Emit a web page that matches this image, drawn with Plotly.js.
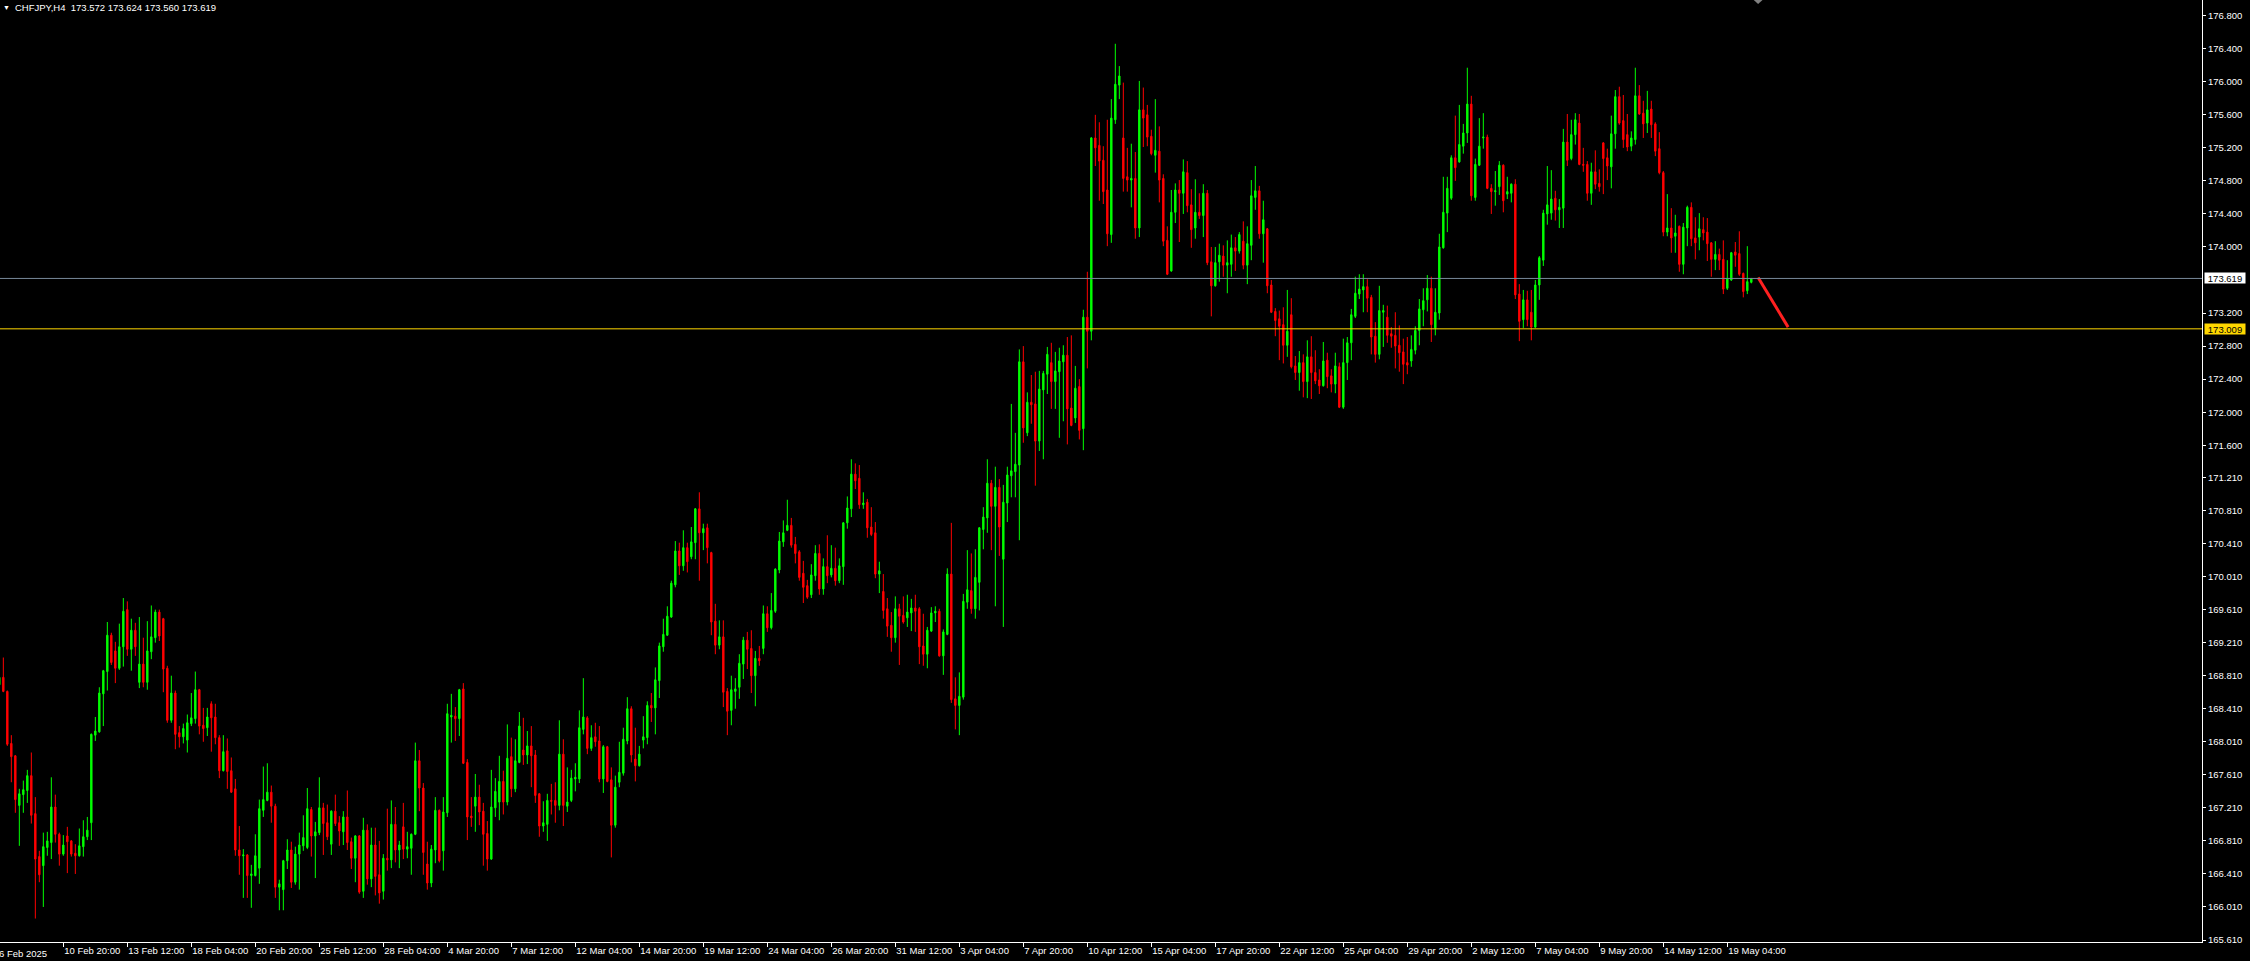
<!DOCTYPE html>
<html><head><meta charset="utf-8">
<script src="https://cdn.plot.ly/plotly-3.0.1.min.js"></script>
<style>html,body{margin:0;padding:0;background:#000;overflow:hidden}#chart{width:2250px;height:961px}</style>
</head><body><div id="chart"></div>
<script>
const symbol = "CHFJPY,H4";
const lastBarOHLC = ["173.572", "173.624", "173.560", "173.619"];

const openV = [
168.70,168.79,168.62,167.99,167.84,167.24,167.37,167.42,167.60,167.14,
166.62,166.51,166.73,166.79,167.22,166.89,166.65,166.87,166.81,166.66,
166.63,166.74,166.86,167.03,168.09,168.13,168.59,168.86,169.30,169.11,
168.90,169.16,169.61,169.13,169.36,168.73,168.95,168.73,169.10,169.27,
169.58,169.50,168.90,168.27,168.60,168.12,168.07,168.03,168.23,168.29,
168.64,168.21,168.18,168.47,168.31,168.06,167.66,167.90,167.66,167.44,
166.70,166.63,166.64,166.39,166.39,166.48,167.18,167.30,167.40,167.23,
166.25,166.22,166.57,166.70,166.31,166.65,166.75,166.73,167.19,166.87,
166.91,167.21,167.03,166.77,167.17,167.03,166.92,167.10,166.80,166.60,
166.87,166.20,166.94,166.35,166.76,166.40,166.20,166.60,166.58,167.01,
166.70,166.98,166.71,166.72,166.89,167.78,167.45,166.53,166.30,166.70,
167.18,166.69,167.15,168.31,168.32,168.29,168.65,167.76,167.11,167.23,
167.34,167.17,166.90,166.59,167.21,167.28,167.53,167.28,167.83,167.44,
167.76,167.91,167.85,167.96,167.85,167.38,166.99,167.01,167.30,167.30,
167.24,167.86,167.23,167.30,167.56,167.56,168.16,168.30,167.93,168.07,
168.02,167.56,167.95,167.55,167.00,167.52,167.63,168.02,168.41,167.80,
167.72,168.03,168.06,168.45,168.42,168.75,169.16,169.30,169.52,169.91,
170.32,170.14,170.36,170.25,170.42,170.83,170.54,170.60,170.30,169.47,
169.18,169.28,168.62,168.39,168.62,168.67,168.95,169.24,169.14,168.81,
169.02,169.14,169.56,169.39,169.59,170.09,170.43,170.57,170.63,170.40,
170.31,170.05,169.90,169.79,170.02,170.29,169.86,170.13,170.03,170.11,
169.96,170.13,170.66,170.83,171.25,171.20,170.88,170.91,170.61,170.54,
170.04,169.83,169.62,169.42,169.27,169.62,169.54,169.51,169.57,169.63,
169.62,169.17,169.07,169.35,169.57,169.59,169.05,169.31,170.04,168.53,
168.45,168.55,169.70,169.84,169.62,169.94,170.58,170.72,171.14,170.86,
171.09,170.22,170.90,171.23,171.28,171.36,172.61,171.75,172.12,172.10,
171.65,172.27,172.46,172.60,172.37,172.49,172.61,172.69,172.05,171.93,
172.31,171.80,173.15,172.98,175.32,175.23,175.05,174.69,174.15,175.54,
175.96,175.32,174.85,174.81,174.83,174.23,175.66,175.60,175.34,175.11,
175.16,174.83,174.08,173.71,174.42,174.69,174.65,174.90,174.51,174.23,
174.42,174.38,174.65,173.82,173.53,173.82,173.89,173.78,173.79,173.99,
173.95,174.07,173.78,174.02,174.60,174.68,174.16,174.22,173.54,173.22,
173.13,173.06,172.81,173.18,172.56,172.48,172.60,172.37,172.67,172.48,
172.39,172.32,172.63,172.44,172.34,172.55,172.06,172.60,172.84,173.16,
173.43,173.48,173.52,173.39,172.92,172.70,173.21,173.15,172.95,172.93,
172.81,172.73,172.60,172.62,172.75,172.99,173.24,173.36,173.50,173.02,
173.20,173.99,174.41,174.59,175.08,175.03,175.22,175.38,175.73,174.60,
174.99,175.32,175.33,174.71,174.67,174.73,174.99,174.64,174.65,174.76,
173.43,173.12,173.36,173.21,173.03,173.54,173.84,174.40,174.41,174.59,
174.45,174.47,175.27,175.07,175.36,175.50,175.00,175.00,174.65,174.91,
174.77,175.26,175.08,174.97,175.37,175.82,175.53,175.36,175.22,175.30,
175.83,175.62,175.50,175.67,175.49,175.19,174.90,174.18,174.23,174.13,
174.25,173.79,174.23,174.48,174.11,174.12,174.21,174.18,174.05,173.85,
173.91,173.85,173.50,173.60,173.94,173.92,173.68,173.47,173.572];

const highV = [
168.82,169.03,168.63,168.09,167.85,167.44,167.54,167.67,167.88,167.34,
166.69,166.91,166.92,167.58,167.37,166.91,166.88,166.98,166.82,166.77,
166.96,167.06,167.10,168.11,168.31,168.67,168.88,169.46,169.33,169.22,
169.44,169.75,169.71,169.50,169.45,169.52,169.27,169.47,169.66,169.61,
169.61,169.51,168.93,168.81,168.63,168.20,168.23,168.34,168.60,168.86,
168.65,168.42,168.42,168.50,168.47,168.09,168.09,168.05,167.82,167.56,
166.99,166.71,166.65,166.52,166.89,167.31,167.71,167.75,167.48,167.26,
166.34,166.58,166.83,166.80,166.74,166.91,167.12,167.45,167.22,167.04,
167.58,167.27,167.25,167.18,167.37,167.11,167.17,167.42,166.85,166.88,
166.88,167.09,167.01,166.97,166.97,166.81,166.65,167.20,167.30,167.22,
166.81,167.27,166.92,166.90,168.00,167.91,167.51,166.80,166.76,167.34,
167.19,167.34,168.47,168.59,168.43,168.65,168.72,167.80,167.34,167.62,
167.49,167.27,167.05,167.67,167.57,167.84,167.66,168.22,168.06,168.04,
168.37,168.30,168.14,168.20,167.91,167.39,167.29,167.38,167.50,167.52,
168.27,168.04,167.70,167.67,167.75,168.39,168.78,168.32,168.21,168.24,
168.20,167.97,167.96,167.70,167.60,168.01,168.18,168.55,168.44,168.18,
167.96,168.32,168.50,168.60,168.91,169.21,169.50,169.65,169.96,170.44,
170.42,170.57,170.42,170.61,170.84,171.03,170.65,170.65,170.31,169.68,
169.48,169.48,168.66,168.81,168.78,169.07,169.28,169.34,169.36,169.11,
169.17,169.66,169.65,169.81,170.11,170.55,170.69,170.94,170.72,170.49,
170.33,170.20,169.97,170.16,170.39,170.40,170.23,170.51,170.39,170.36,
170.23,170.67,170.98,171.43,171.38,171.36,171.03,170.95,170.85,170.67,
170.19,170.04,169.75,169.58,169.77,169.68,169.77,169.79,169.74,169.79,
169.64,169.56,169.40,169.64,169.65,169.62,169.37,170.11,170.66,168.79,
168.85,169.80,170.33,170.29,170.34,170.61,170.85,171.43,171.18,171.34,
171.19,171.12,171.34,172.10,171.75,172.76,172.80,172.24,172.45,172.49,
172.50,172.50,172.79,172.84,172.73,172.78,172.81,172.91,172.93,172.56,
172.40,173.24,173.70,175.33,175.60,175.51,175.22,175.54,175.79,176.46,
176.19,175.99,175.20,175.25,175.15,176.01,175.93,175.72,175.42,175.79,
175.46,174.88,174.25,174.69,174.77,174.81,175.06,175.04,174.70,174.82,
174.65,174.76,174.69,174.00,174.00,174.04,174.02,174.08,174.15,174.12,
174.18,174.31,174.25,174.81,174.98,174.74,174.56,174.23,173.60,173.26,
173.23,173.27,173.48,173.38,172.68,172.74,172.70,172.87,172.92,172.75,
172.52,172.85,172.72,172.52,172.72,172.60,172.89,172.91,173.25,173.64,
173.67,173.67,173.61,173.42,173.09,173.53,173.30,173.29,173.03,173.21,
173.05,172.89,172.91,172.93,173.04,173.37,173.50,173.66,173.64,173.50,
174.16,174.85,174.85,175.11,175.59,175.72,175.49,176.17,175.83,175.07,
175.56,175.62,175.36,174.76,174.92,175.04,175.00,174.85,174.77,174.82,
173.55,173.48,173.47,173.48,173.60,173.89,174.45,174.98,174.93,174.68,
174.58,175.43,175.61,175.54,175.62,175.61,175.20,175.04,175.02,175.17,
174.94,175.27,175.19,175.59,175.90,175.94,175.84,175.61,175.40,176.17,
175.96,175.77,175.89,175.77,175.51,175.39,174.92,174.64,174.47,174.39,
174.26,174.29,174.50,174.54,174.36,174.41,174.36,174.35,174.06,174.07,
173.98,174.08,173.84,173.94,174.06,174.19,173.69,174.01,173.624];

const lowV = [
168.69,168.61,167.96,167.52,167.15,166.75,167.15,167.27,167.02,165.87,
166.31,166.01,166.63,166.59,166.79,166.51,166.63,166.42,166.62,166.41,
166.62,166.62,166.82,166.82,168.02,168.12,168.20,168.63,168.94,168.72,
168.88,168.92,169.05,168.87,169.05,168.66,168.67,168.64,169.01,169.21,
169.23,168.61,168.24,168.24,167.92,167.94,167.99,167.88,168.20,168.23,
168.10,168.01,168.08,167.89,167.98,167.57,167.65,167.44,167.39,166.63,
166.40,166.12,166.12,166.00,166.38,166.29,167.10,167.29,167.03,166.12,
165.97,165.97,166.47,166.24,166.28,166.22,166.69,166.71,166.62,166.36,
166.88,166.64,166.82,166.64,166.99,166.75,166.76,166.70,166.47,166.31,
166.17,166.12,166.28,166.25,166.15,166.05,166.10,166.45,166.48,166.55,
166.48,166.59,166.60,166.40,166.88,167.17,166.40,166.22,166.25,166.54,
166.55,166.45,167.10,168.00,168.02,168.08,167.74,166.82,166.98,166.92,
167.00,166.51,166.45,166.58,167.10,167.06,167.13,167.24,167.34,167.40,
167.75,167.73,167.74,167.46,167.27,166.86,166.92,166.81,167.13,167.03,
167.18,166.99,167.16,167.28,167.41,167.51,168.10,167.86,167.90,167.95,
167.52,167.39,167.52,166.61,166.97,167.46,167.60,167.98,167.76,167.53,
167.71,167.93,167.98,168.25,168.10,168.54,169.10,169.29,169.51,169.88,
170.03,170.08,170.06,170.22,170.22,169.96,170.33,170.17,169.30,169.07,
169.13,168.43,168.09,168.21,168.41,168.53,168.77,168.89,168.60,168.44,
168.93,169.07,169.34,169.37,169.57,170.05,170.37,170.56,170.36,170.17,
169.96,169.69,169.74,169.75,169.96,169.79,169.79,169.93,170.00,169.90,
169.93,169.91,170.59,170.73,171.07,170.83,170.83,170.48,170.50,169.99,
169.81,169.50,169.28,169.10,169.21,168.94,169.44,169.40,169.35,169.34,
168.95,168.93,168.90,169.34,169.46,169.04,168.82,169.30,168.48,168.16,
168.09,168.52,169.62,169.56,169.50,169.60,170.34,170.54,170.33,169.65,
170.26,169.40,170.67,170.97,170.97,170.45,171.63,171.71,171.86,171.11,
171.53,171.43,172.22,172.04,172.04,171.69,171.89,171.61,171.83,171.87,
171.67,171.54,172.53,172.87,174.98,174.56,174.52,174.01,174.05,175.49,
175.79,174.67,174.67,174.48,174.10,174.12,175.21,175.22,175.11,174.90,
174.54,174.01,173.66,173.70,174.29,174.06,174.40,174.42,173.99,174.10,
174.34,174.12,173.78,173.16,173.52,173.58,173.64,173.44,173.64,173.71,
173.92,173.73,173.55,173.84,174.45,174.10,173.81,173.44,173.20,172.92,
172.63,172.59,172.67,172.53,172.39,172.26,172.18,172.17,172.16,172.34,
172.22,172.31,172.29,172.24,172.23,172.05,172.04,172.39,172.63,173.14,
173.37,173.21,173.21,172.70,172.60,172.64,172.79,172.84,172.78,172.53,
172.49,172.34,172.46,172.55,172.70,172.81,173.04,173.22,172.85,172.93,
173.12,173.98,174.18,174.57,174.80,175.02,175.13,175.26,174.56,174.56,
174.98,175.19,174.70,174.40,174.50,174.63,174.42,174.58,174.54,173.37,
172.86,173.02,173.04,172.87,173.02,173.36,173.77,174.27,174.33,174.32,
174.23,174.23,174.98,175.05,175.24,174.99,174.91,174.56,174.51,174.70,
174.67,174.64,174.81,174.71,175.19,175.48,175.20,175.16,175.16,175.24,
175.60,175.32,175.38,175.32,175.10,174.88,174.13,174.13,173.93,173.93,
173.70,173.67,174.01,174.01,173.85,173.96,174.08,173.83,173.64,173.72,
173.72,173.43,173.48,173.59,173.76,173.65,173.39,173.43,173.560];

const closeV = [
168.79,168.62,167.98,167.83,167.31,167.38,167.43,167.60,167.12,166.59,
166.40,166.74,166.81,167.22,166.89,166.65,166.76,166.80,166.65,166.63,
166.75,166.86,166.94,168.10,168.14,168.60,168.87,169.30,168.97,168.90,
169.16,169.59,169.13,169.36,169.16,168.95,168.73,169.11,169.28,169.58,
169.29,168.89,168.27,168.60,168.10,168.07,168.17,168.24,168.30,168.64,
168.20,168.17,168.31,168.30,168.06,167.66,167.89,167.65,167.40,166.70,
166.63,166.64,166.39,166.41,166.63,167.20,167.31,167.40,167.23,166.25,
166.29,166.57,166.70,166.31,166.65,166.76,166.85,167.20,166.87,166.92,
167.21,167.02,166.86,167.17,167.02,166.93,167.10,166.79,166.60,166.87,
166.19,166.94,166.35,166.76,166.38,166.18,166.60,166.58,167.01,166.70,
166.76,166.71,166.74,166.89,167.78,167.45,166.67,166.30,166.71,167.18,
166.57,167.16,168.35,168.33,168.29,168.64,167.75,167.10,167.09,167.34,
167.16,166.89,166.59,167.22,167.41,167.53,167.28,167.81,167.44,167.78,
168.20,167.85,167.96,167.84,167.36,166.99,167.03,167.30,167.29,167.24,
167.86,167.24,167.28,167.57,167.58,168.18,168.31,167.93,168.06,168.01,
167.56,167.95,167.53,167.00,167.46,167.64,168.04,168.41,167.85,167.72,
167.86,168.07,168.45,168.42,168.76,169.17,169.31,169.53,169.93,170.32,
170.14,170.36,170.19,170.43,170.83,170.54,170.59,170.36,169.46,169.18,
169.28,168.61,168.38,168.64,168.65,168.96,169.24,169.13,168.81,169.02,
168.99,169.56,169.39,169.60,170.10,170.44,170.54,170.63,170.39,170.29,
170.00,169.88,169.76,170.03,170.29,169.86,170.13,170.02,170.11,169.96,
170.14,170.66,170.84,171.25,171.17,170.88,170.90,170.60,170.52,170.04,
170.08,169.60,169.41,169.27,169.62,169.53,169.46,169.58,169.63,169.59,
169.16,169.07,169.36,169.57,169.59,169.05,169.34,170.04,168.52,168.45,
168.56,169.71,169.85,169.62,170.00,170.60,170.73,171.14,170.86,171.09,
170.61,170.91,171.24,171.29,171.37,172.61,171.81,172.12,172.09,171.65,
172.28,172.47,172.70,172.37,172.50,172.62,172.69,172.04,171.84,172.29,
171.78,173.15,172.98,175.32,175.20,175.04,174.67,174.16,175.56,175.97,
176.07,174.83,174.81,174.83,174.23,175.66,175.56,175.33,175.13,175.17,
174.81,174.07,173.67,174.42,174.69,174.65,174.91,174.50,174.21,174.42,
174.38,174.65,173.81,173.53,173.81,173.90,173.78,173.81,173.99,173.95,
174.15,173.78,174.04,174.62,174.68,174.16,174.33,173.53,173.21,173.11,
173.04,172.81,172.98,172.55,172.48,172.60,172.37,172.67,172.48,172.38,
172.32,172.62,172.43,172.34,172.56,172.06,172.60,172.84,173.18,173.44,
173.49,173.52,173.38,172.91,172.70,173.23,173.23,172.93,172.92,172.80,
172.72,172.58,172.57,172.76,172.99,173.25,173.35,173.50,173.06,173.21,
174.00,174.42,174.71,175.08,174.96,175.24,175.38,175.73,174.62,175.00,
175.22,175.33,174.71,174.67,174.68,174.99,174.56,174.67,174.76,173.42,
173.10,173.36,173.12,173.03,173.54,173.87,174.41,174.51,174.58,174.45,
174.48,175.27,175.05,175.36,175.54,175.00,174.99,174.65,174.91,174.76,
174.73,175.07,174.98,175.37,175.82,175.50,175.30,175.21,175.32,175.83,
175.61,175.49,175.66,175.48,175.16,174.90,174.18,174.23,174.11,174.17,
173.79,174.24,174.48,174.10,174.05,174.22,174.17,174.04,173.85,173.91,
173.84,173.49,173.62,173.93,173.90,173.67,173.46,173.58,173.619];

const timeLabels = ["6 Feb 2025","10 Feb 20:00","13 Feb 12:00","18 Feb 04:00","20 Feb 20:00","25 Feb 12:00",
"28 Feb 04:00","4 Mar 20:00","7 Mar 12:00","12 Mar 04:00","14 Mar 20:00","19 Mar 12:00","24 Mar 04:00",
"26 Mar 20:00","31 Mar 12:00","3 Apr 04:00","7 Apr 20:00","10 Apr 12:00","15 Apr 04:00","17 Apr 20:00",
"22 Apr 12:00","25 Apr 04:00","29 Apr 20:00","2 May 12:00","7 May 04:00","9 May 20:00","14 May 12:00","19 May 04:00"];
const barsPerLabel = 16;

const priceTicks = [176.8,176.4,176.0,175.6,175.2,174.8,174.4,174.0,173.2,172.8,172.4,172.0,171.6,
171.21,170.81,170.41,170.01,169.61,169.21,168.81,168.41,168.01,167.61,167.21,166.81,166.41,166.01,165.61];

const bidPrice = 173.619;
const levelPrice = 173.009;
const arrowBars = [439.7, 447.2];
const arrowPrices = [173.63, 173.03];
const shiftMarkerBar = 439.7;

const n = openV.length;
if (highV.length !== n || lowV.length !== n || closeV.length !== n) {
  throw new Error("length mismatch " + [openV.length, highV.length, lowV.length, closeV.length].join(","));
}
const barIdx = openV.map((_, i) => i);
const tickIdx = timeLabels.map((_, j) => j * barsPerLabel);

const FONT = "Liberation Sans, Arial, sans-serif";
const FS = 9.5;
const W = 2250, H = 961, ML = 0, MR = 48, MT = 0, MB = 19;
const plotW = W - ML - MR, plotH = H - MT - MB;

const traces = [
  {
    type: "candlestick",
    x: barIdx, open: openV, high: highV, low: lowV, close: closeV,
    increasing: {line: {color: "#00ff00", width: 1}, fillcolor: "#00ff00"},
    decreasing: {line: {color: "#ff0000", width: 1}, fillcolor: "#ff0000"},
    whiskerwidth: 0, hoverinfo: "skip", showlegend: false
  },
  {
    type: "scatter", mode: "lines", x: arrowBars, y: arrowPrices,
    line: {color: "#ff2020", width: 3}, hoverinfo: "skip", showlegend: false
  }
];

const mk = 1.1, mh = 4 / plotH;
const layout = {
  width: W, height: H,
  margin: {l: ML, r: MR, t: MT, b: MB, pad: 0},
  paper_bgcolor: "#000000", plot_bgcolor: "#000000",
  showlegend: false, boxgap: 0.5,
  font: {family: FONT, size: FS, color: "#ffffff"},
  xaxis: {
    type: "linear", range: [0.1675, 550.67], autorange: false,
    rangeslider: {visible: false}, showgrid: false, zeroline: false,
    showline: true, linecolor: "#ffffff", linewidth: 1,
    tickmode: "array", tickvals: tickIdx, ticktext: timeLabels, tickangle: 0,
    ticks: "outside", ticklen: 4, tickcolor: "#ffffff", tickwidth: 1,
    ticklabelposition: "outside right",
    tickfont: {family: FONT, size: FS, color: "#ffffff"}, automargin: false
  },
  yaxis: {
    side: "right", range: [165.586, 176.99], autorange: false,
    showgrid: false, zeroline: false, showline: true, linecolor: "#ffffff", linewidth: 1,
    tickmode: "array", tickvals: priceTicks, ticktext: priceTicks.map(v => v.toFixed(3)), tickangle: 0,
    ticks: "outside", ticklen: 3, tickcolor: "#ffffff", tickwidth: 1,
    tickfont: {family: FONT, size: FS, color: "#ffffff"}, automargin: false
  },
  shapes: [
    {type: "line", xref: "paper", x0: 0, x1: 1, yref: "y", y0: bidPrice, y1: bidPrice,
     line: {color: "#778899", width: 1}},
    {type: "line", xref: "paper", x0: 0, x1: 1, yref: "y", y0: levelPrice, y1: levelPrice,
     line: {color: "#ffd700", width: 1}},
    {type: "path", xref: "x", yref: "paper",
     path: "M " + (shiftMarkerBar - mk) + " 1 L " + (shiftMarkerBar + mk) + " 1 L " + shiftMarkerBar + " " + (1 - mh) + " Z",
     fillcolor: "#808080", line: {color: "#808080", width: 0}}
  ],
  annotations: [
    {xref: "paper", yref: "paper", x: 0, y: 1, xanchor: "left", yanchor: "top", xshift: 1, yshift: -2,
     text: "▼", showarrow: false, font: {family: FONT, size: 7, color: "#ffffff"}},
    {xref: "paper", yref: "paper", x: 0, y: 1, xanchor: "left", yanchor: "top", xshift: 13, yshift: 0,
     text: symbol + "\u00a0\u00a0" + lastBarOHLC.join(" "), showarrow: false,
     font: {family: FONT, size: FS, color: "#ffffff"}},
    {xref: "paper", yref: "y", x: 1, y: bidPrice, xanchor: "left", yanchor: "middle", xshift: 2,
     text: bidPrice.toFixed(3), showarrow: false, bgcolor: "#ffffff", width: 40, height: 10, borderpad: 0,
     font: {family: FONT, size: FS, color: "#000000"}},
    {xref: "paper", yref: "y", x: 1, y: levelPrice, xanchor: "left", yanchor: "middle", xshift: 2,
     text: levelPrice.toFixed(3), showarrow: false, bgcolor: "#ffd700", width: 40, height: 10, borderpad: 0,
     font: {family: FONT, size: FS, color: "#000000"}},
    {xref: "paper", yref: "paper", x: -3 / plotW, y: 0, xanchor: "left", yanchor: "top", yshift: -4,
     text: timeLabels[0], showarrow: false, font: {family: FONT, size: FS, color: "#ffffff"}}
  ]
};

Plotly.newPlot("chart", traces, layout, {displayModeBar: false, staticPlot: true});
</script>
</body></html>
